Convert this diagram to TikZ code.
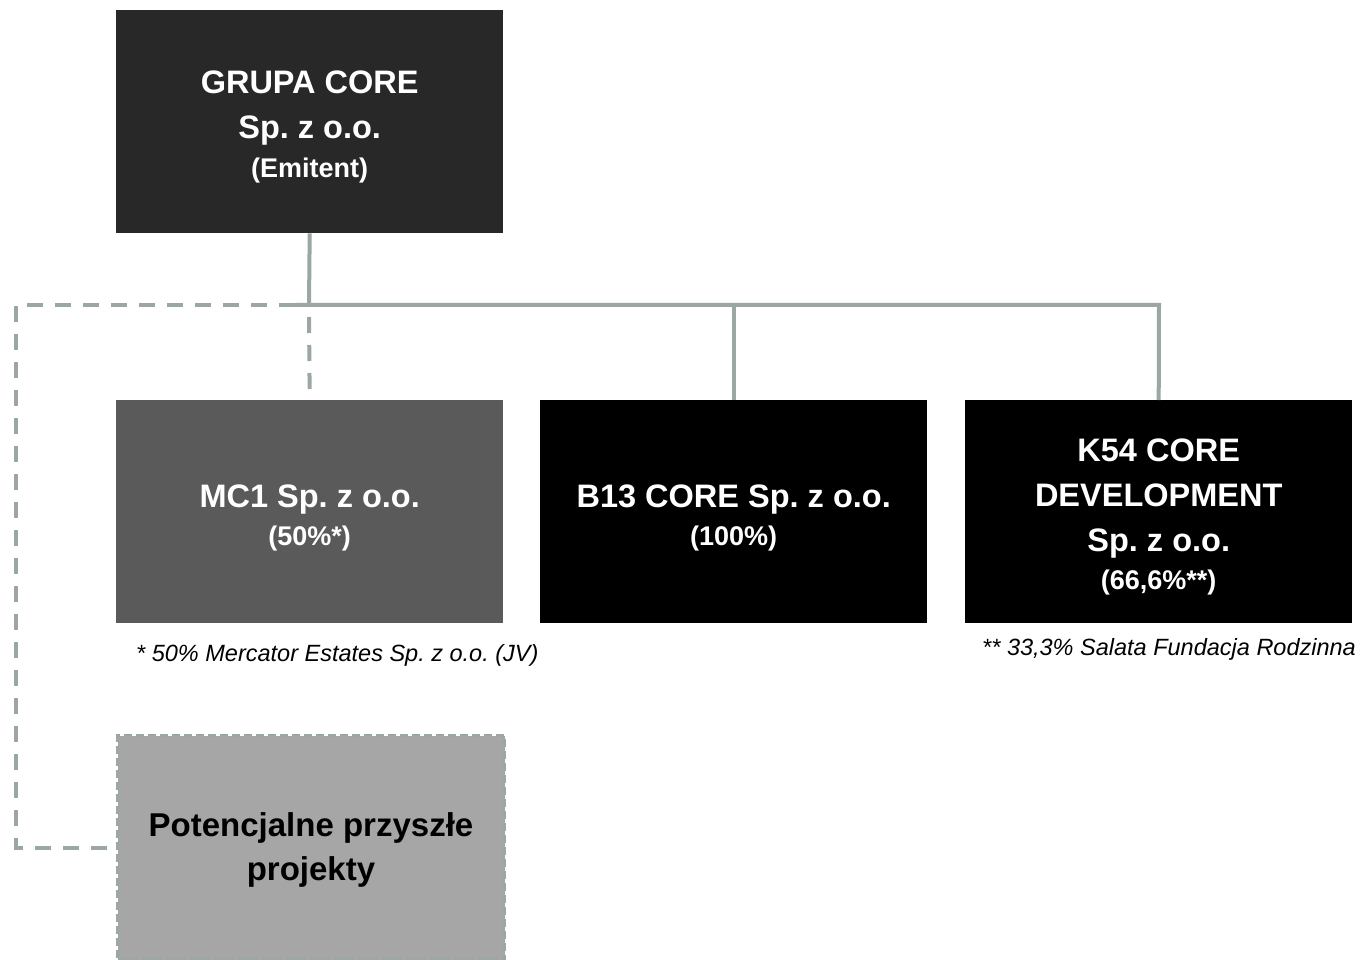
\documentclass[tikz,border=0pt]{standalone}
\usepackage{fontspec}
\setmainfont{Liberation Sans}
\frenchspacing
\definecolor{topgray}{HTML}{282828}
\definecolor{midgray}{HTML}{5A5A5A}
\definecolor{lightgray}{HTML}{A6A6A6}
\definecolor{linegray}{HTML}{9AA7A2}
\newcommand{\subline}[1]{{\fontsize{27}{32}\selectfont #1}}
\newcommand{\padtop}[1]{\rule{0pt}{#1}}
\begin{document}
\begin{tikzpicture}[x=1pt,y=-1pt,
  box/.style={anchor=north west, minimum width=387pt, minimum height=223pt, inner sep=0pt, align=center, text=white, font=\bfseries\fontsize{32.5}{45}\selectfont},
  conn/.style={draw=linegray, line width=4pt},
  dconn/.style={draw=linegray, line width=4pt, dash pattern=on 16pt off 12pt},
  note/.style={anchor=west, font=\itshape\fontsize{23.5}{28}\selectfont, inner sep=0pt}
]
\useasboundingbox (0,0) rectangle (1361,960);
\node[box, fill=topgray] (top) at (116,10) {\padtop{33.5pt}GRUPA CORE\\ Sp. z o.o.\\[-6pt] \subline{(Emitent)}};
\node[box, fill=midgray] (mc1) at (116,400) {\padtop{34.5pt}MC1 Sp. z o.o.\\[-7pt] \subline{(50\%*)}};
\node[box, fill=black] (b13) at (540,400) {\padtop{34.5pt}B13 CORE Sp. z o.o.\\[-7pt] \subline{(100\%)}};
\node[box, fill=black] (k54) at (965,400) {\padtop{33.5pt}K54 CORE\\ DEVELOPMENT\\ Sp. z o.o.\\[-7pt] \subline{(66,6\%**)}};
\node[box, fill=lightgray, text=black, font=\bfseries\fontsize{33}{44}\selectfont, minimum height=224pt, draw=linegray, line width=3pt, dash pattern=on 8pt off 4pt] (pot) at (116,734) {\padtop{28pt}Potencjalne przyszłe\\ projekty};
\node[note] (n1) at (136,655) {* 50\% Mercator Estates Sp. z o.o. (JV)};
\node[note] (n2) at (982,649) {** 33,3\% Salata Fundacja Rodzinna};
\coordinate (j) at (309,305);
\coordinate (jl) at (295,305);
\coordinate (lc) at (16,305);
\draw[conn] (top.south) -- (j);
\draw[conn] (jl) -- (1159,305) -- (k54.north);
\draw[conn] (j -| b13.north) -- (b13.north);
\draw[dconn] (j) ++(0,12) -- (mc1.north);
\draw[dconn] (jl) -- (lc) |- (pot.west);
\end{tikzpicture}
\end{document}
